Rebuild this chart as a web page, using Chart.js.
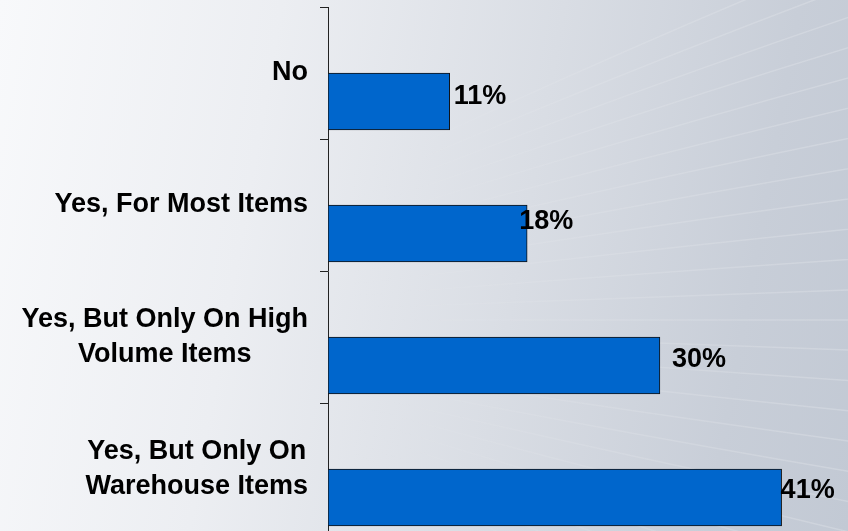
<!DOCTYPE html>
<html>
<head>
<meta charset="utf-8">
<script src="https://cdn.jsdelivr.net/npm/chart.js@4/dist/chart.umd.min.js"></script>
<style>
  html, body { margin: 0; padding: 0; overflow: hidden; }
  body {
    width: 848px;
    height: 531px;
    background: linear-gradient(100deg, #f8f9fb 0%, #eceef2 30%, #d9dde4 60%, #c8ced8 85%, #c2c9d4 100%);
  }
  #wrap { position: relative; width: 848px; height: 536px; }
</style>
</head>
<body>
<div id="wrap"><canvas id="surveyChart"></canvas></div>
<script>
// Survey answers, top to bottom
const categories = [
  ['No'],
  ['Yes, For Most Items'],
  ['Yes, But Only On High', 'Volume Items'],
  ['Yes, But Only On', 'Warehouse Items']
];
const percentValues = [11, 18, 30, 41];
const valueLabels = ['11%', '18%', '30%', '41%'];

const X_MAX = 47;          // right edge of the plot area in %
const BAR_SHIFT = 28.5;    // bars sit below the centre of their band
const LABEL_NUDGE_X = [4, -8, 12, -1];
const LABEL_NUDGE_Y = [-5, -12, -6, -7];
const TEXT_FONT = 'bold 27px "Liberation Sans", Arial, sans-serif';

// faint white streaks on the background
const swooshPlugin = {
  id: 'swoosh',
  beforeDraw(chart) {
    const ctx = chart.ctx;
    const ox = 250, oy = 320;
    ctx.save();
    ctx.lineWidth = 1.5;
    for (let k = -12; k <= 12; k++) {
      const endY = oy + k * 32;
      const grad = ctx.createLinearGradient(ox + 100, 0, 900, 0);
      grad.addColorStop(0, 'rgba(255,255,255,0)');
      grad.addColorStop(0.5, 'rgba(255,255,255,0.12)');
      grad.addColorStop(1, 'rgba(255,255,255,0.22)');
      ctx.strokeStyle = grad;
      ctx.beginPath();
      ctx.moveTo(ox, oy + k * 8);
      ctx.quadraticCurveTo(600, oy + k * 22, 900, endY);
      ctx.stroke();
    }
    ctx.restore();
  }
};

// category labels: each block right aligned, its lines centred on each other
const categoryLabelPlugin = {
  id: 'categoryLabels',
  afterDraw(chart) {
    const ctx = chart.ctx;
    const yScale = chart.scales.y;
    const rightEdge = chart.chartArea.left - 20;
    const lineHeight = 35;
    ctx.save();
    ctx.font = TEXT_FONT;
    ctx.fillStyle = '#000';
    ctx.textAlign = 'center';
    ctx.textBaseline = 'middle';
    categories.forEach((lines, i) => {
      const widest = Math.max(...lines.map(l => ctx.measureText(l).width));
      const cx = rightEdge - widest / 2;
      const cy = yScale.getPixelForTick(i);
      const top = cy - (lines.length - 1) * lineHeight / 2;
      lines.forEach((l, j) => ctx.fillText(l, cx, top + j * lineHeight));
    });
    ctx.restore();
  }
};

// move the bars down inside their band and write the value beside each bar
const barShiftPlugin = {
  id: 'barShift',
  beforeDatasetsDraw(chart) {
    chart.ctx.save();
    chart.ctx.translate(0, BAR_SHIFT);
  },
  afterDatasetsDraw(chart) {
    const ctx = chart.ctx;
    const meta = chart.getDatasetMeta(0);
    ctx.font = TEXT_FONT;
    ctx.fillStyle = '#000';
    ctx.textAlign = 'left';
    ctx.textBaseline = 'middle';
    meta.data.forEach((bar, i) => {
      ctx.fillText(valueLabels[i], bar.x + LABEL_NUDGE_X[i], bar.y + LABEL_NUDGE_Y[i]);
    });
    ctx.restore();
  }
};

const ctx = document.getElementById('surveyChart').getContext('2d');
new Chart(ctx, {
  type: 'bar',
  data: {
    labels: categories,
    datasets: [{
      data: percentValues,
      backgroundColor: '#0066cc',
      borderColor: '#111',
      borderWidth: 1,
      borderSkipped: false,
      barThickness: 57
    }]
  },
  options: {
    indexAxis: 'y',
    responsive: true,
    maintainAspectRatio: false,
    animation: false,
    layout: { padding: { top: 7, bottom: 1, left: 0, right: 0 } },
    plugins: {
      legend: { display: false },
      tooltip: { enabled: false }
    },
    scales: {
      x: {
        display: false,
        min: 0,
        max: X_MAX
      },
      y: {
        type: 'category',
        offset: true,
        afterFit: scale => { scale.width = 328; },
        ticks: { display: false },
        grid: {
          offset: true,
          drawOnChartArea: false,
          drawTicks: true,
          tickLength: 8,
          color: '#222',
          lineWidth: 1
        },
        border: { display: true, color: '#222', width: 1 }
      }
    }
  },
  plugins: [swooshPlugin, categoryLabelPlugin, barShiftPlugin]
});
</script>
</body>
</html>
